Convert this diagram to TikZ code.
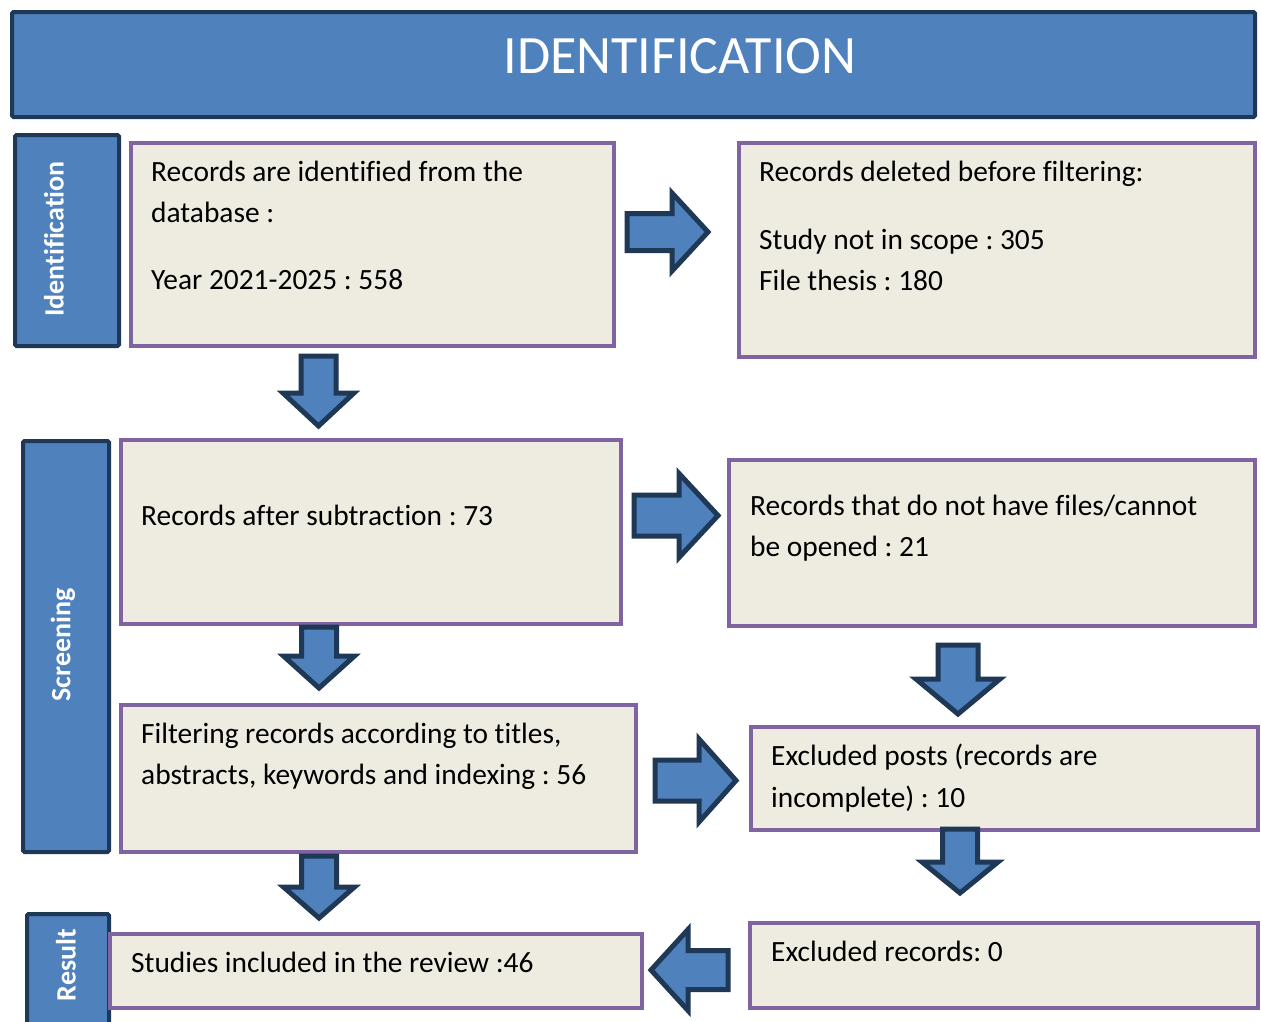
\documentclass[tikz,border=0pt]{standalone}
\usepackage{fontspec}
\setmainfont{Carlito}[Ligatures=NoCommon]
\frenchspacing
\definecolor{hblue}{HTML}{4F81BD}
\definecolor{hdark}{HTML}{1F3855}
\definecolor{hpurple}{HTML}{8064A2}
\definecolor{hbeige}{HTML}{EEECE1}
\tikzset{
  pbox/.style={draw=hpurple, fill=hbeige, line width=4pt, anchor=north west, inner sep=0pt},
  sidebox/.style={draw=hdark, fill=hblue, line width=4pt, anchor=north west, inner sep=0pt, rounded corners=1.5pt},
  sidetext/.style={text=white, font=\fontsize{28}{30}\selectfont\bfseries, rotate=90, inner sep=0pt},
  txt/.style={anchor=base west, inner sep=0pt, font=\fontsize{29.4}{32}\selectfont, text=black},
  blk/.style={draw=hdark, fill=hblue, line width=5pt, line join=miter}
}
\newcommand\downarr[6]{% cx, sw, hw, y0, y1, y2
  \draw[blk] ({#1-#2},#4) -- ({#1+#2},#4) -- ({#1+#2},#5) -- ({#1+#3},#5) -- (#1,#6) -- ({#1-#3},#5) -- ({#1-#2},#5) -- cycle;}
\newcommand\rightarr[6]{% cy, sw, hw, x0, x1, x2
  \draw[blk] (#4,{#1-#2}) -- (#5,{#1-#2}) -- (#5,{#1-#3}) -- (#6,#1) -- (#5,{#1+#3}) -- (#5,{#1+#2}) -- (#4,{#1+#2}) -- cycle;}
\begin{document}
\begin{tikzpicture}[x=1pt,y=-1pt]
\useasboundingbox (0,0) rectangle (1261,1021);
% banner
\node[sidebox, minimum width=1243pt, minimum height=105pt] (banner) at (10,10) {};
\node[text=white, font=\fontsize{54}{60}\selectfont, inner sep=0pt] (bannertext) at (680,56) {IDENTIFICATION};
% side labels
\node[sidebox, minimum width=104pt, minimum height=211pt] (sideid) at (13,133) {};
\node[sidetext] (sideidt) at (54,239) {Identification};
\node[sidebox, minimum width=86pt, minimum height=411pt] (sidescr) at (21,439) {};
\node[sidetext] (sidescrt) at (63,645) {Screening};
\node[sidebox, minimum width=82pt, minimum height=114pt] (sideres) at (25,912) {};
\node[sidetext] (sidereset) at (66,965) {Result};
% boxes
\node[pbox, minimum width=483pt, minimum height=203pt] (A) at (129,141) {};
\node[pbox, minimum width=516pt, minimum height=214pt] (B) at (737,141) {};
\node[pbox, minimum width=500pt, minimum height=184pt] (C) at (119,438) {};
\node[pbox, minimum width=526pt, minimum height=166pt] (D) at (727,458) {};
\node[pbox, minimum width=515pt, minimum height=147pt] (E) at (119,703) {};
\node[pbox, minimum width=507pt, minimum height=103pt] (F) at (749,725) {};
\node[pbox, minimum width=532pt, minimum height=74pt] (G) at (108,932) {};
\node[pbox, minimum width=508pt, minimum height=85pt] (H) at (748,921) {};
% texts
\node[txt] (a1) at (151,181) {Records are identified from the};
\node[txt] (a2) at (151,222) {database :};
\node[txt] (a3) at (151,289) {Year 2021-2025 : 558};
\node[txt] (b1) at (759,181) {Records deleted before filtering:};
\node[txt] (b2) at (759,249) {Study not in scope : 305};
\node[txt] (b3) at (759,290) {File thesis : 180};
\node[txt] (c1) at (141,525) {Records after subtraction : 73};
\node[txt] (d1) at (750,515) {Records that do not have files/cannot};
\node[txt] (d2) at (750,556) {be opened : 21};
\node[txt] (e1) at (141,743) {Filtering records according to titles,};
\node[txt] (e2) at (141,784) {abstracts, keywords and indexing : 56};
\node[txt] (f1) at (771,765) {Excluded posts (records are};
\node[txt] (f2) at (771,807) {incomplete) : 10};
\node[txt] (g1) at (131,972) {Studies included in the review :46};
\node[txt] (h1) at (771,961) {Excluded records: 0};
% block arrows
\downarr{318.5}{17.5}{35.5}{356}{393}{426}
\downarr{319}{17.5}{35.5}{627}{656}{688}
\downarr{958}{20}{42}{645}{679}{714}
\downarr{319}{17.5}{35.5}{856}{887}{918}
\downarr{960}{17.5}{38}{829}{862}{893}
\rightarr{232}{18.5}{39}{627}{672}{708}
\rightarr{515.5}{20.5}{42}{634}{679}{718}
\rightarr{780.5}{20.5}{41.5}{655}{699}{736}
\rightarr{970}{19.5}{40.5}{728}{688}{651}
\end{tikzpicture}
\end{document}
